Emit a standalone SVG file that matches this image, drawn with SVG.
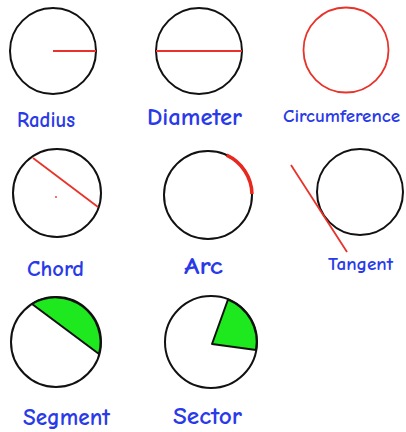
<svg xmlns="http://www.w3.org/2000/svg" width="406" height="432" viewBox="0 0 406 432">
<style>
.c{fill:none;stroke:#111;stroke-width:2}
.r{fill:none;stroke:#e8322a;stroke-width:1.8}
.g{fill:#1ee81e;stroke:#111;stroke-width:2;stroke-linejoin:round}
.t{font-family:"Comic Sans MS","Comic Neue","DejaVu Sans",sans-serif;fill:#2a3ae8;font-weight:bold}
</style>
<rect width="406" height="432" fill="#fff"/>
<g id="radius">
<circle class="c" cx="53" cy="51" r="43"/>
<line class="r" x1="53" y1="51" x2="96" y2="51"/>
<text class="t" x="17" y="127" font-size="22" textLength="58" lengthAdjust="spacingAndGlyphs">Radius</text>
</g>
<g id="diameter">
<circle class="c" cx="199" cy="51" r="43"/>
<line class="r" x1="156" y1="51" x2="242" y2="51"/>
<circle cx="199" cy="51" r="1" fill="#e8322a"/>
<text class="t" x="147" y="125" font-size="25" textLength="95" lengthAdjust="spacingAndGlyphs">Diameter</text>
</g>
<g id="circumference">
<circle class="r" cx="346" cy="50" r="42.5"/>
<text class="t" x="283" y="122" font-size="18" textLength="117" lengthAdjust="spacingAndGlyphs">Circumference</text>
</g>
<g id="chord">
<circle class="c" cx="57" cy="193" r="44"/>
<line class="r" x1="33" y1="158" x2="98" y2="207"/>
<circle cx="56" cy="197" r="0.9" fill="#e8322a"/>
<text class="t" x="27" y="276" font-size="23" textLength="57" lengthAdjust="spacingAndGlyphs">Chord</text>
</g>
<g id="arc">
<circle class="c" cx="208" cy="195" r="44"/>
<path d="M226.6,155.1 A44,44 0 0,1 252,194" fill="none" stroke="#e8281f" stroke-width="3.5"/>
<text class="t" x="184" y="274" font-size="24" textLength="39" lengthAdjust="spacingAndGlyphs">Arc</text>
</g>
<g id="tangent">
<circle class="c" cx="360" cy="192" r="43"/>
<line class="r" x1="291" y1="165" x2="347" y2="252"/>
<text class="t" x="328" y="270" font-size="18" textLength="65" lengthAdjust="spacingAndGlyphs">Tangent</text>
</g>
<g id="segment">
<circle class="c" cx="56" cy="342" r="45" fill="#fff"/>
<path class="g" d="M32,304 A45,45 0 0,1 99,354 Z"/>
<text class="t" x="23" y="425" font-size="24" textLength="87" lengthAdjust="spacingAndGlyphs">Segment</text>
</g>
<g id="sector">
<circle class="c" cx="211" cy="342" r="46"/>
<path class="g" d="M212,344 L228,299.5 A46,46 0 0,1 256,350 Z"/>
<text class="t" x="173" y="424" font-size="24" textLength="69" lengthAdjust="spacingAndGlyphs">Sector</text>
</g>
</svg>
